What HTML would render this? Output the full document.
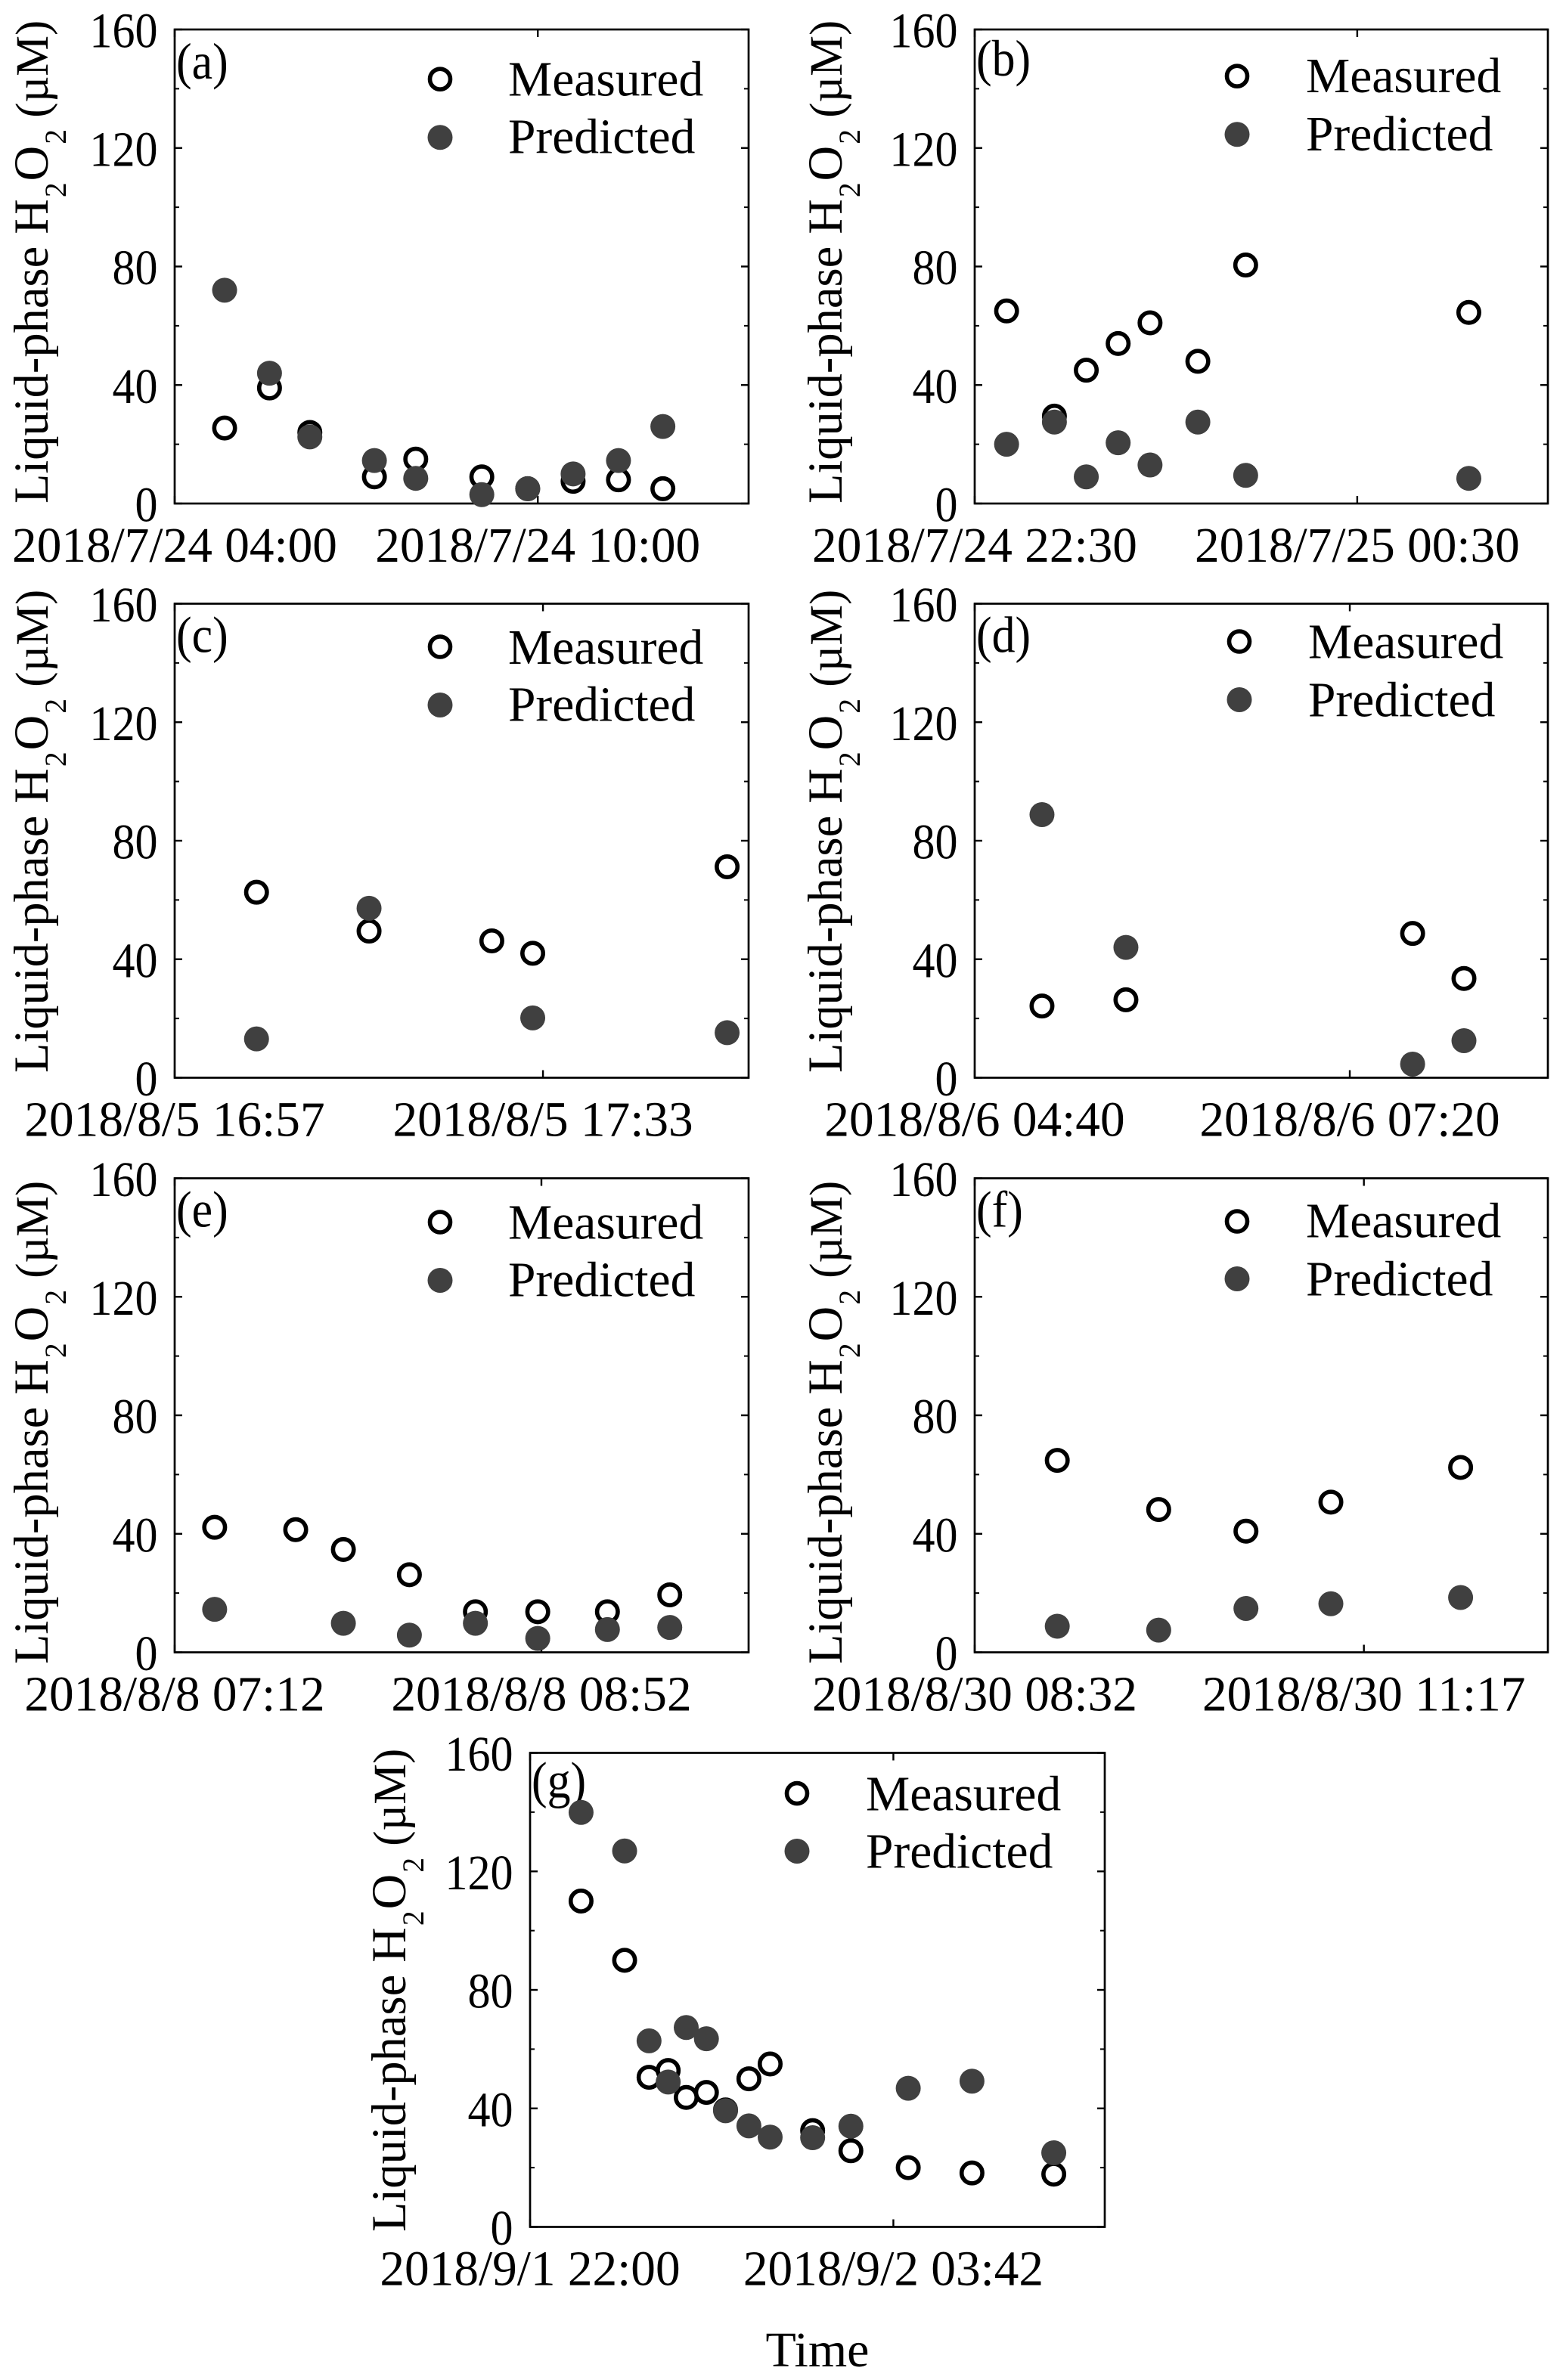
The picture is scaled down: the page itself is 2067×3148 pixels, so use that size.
<!DOCTYPE html>
<html lang="en">
<head>
<meta charset="utf-8">
<title>Measured and predicted liquid-phase H2O2</title>
<style>
html,body{margin:0;padding:0;background:#fff;}
svg{display:block;}
text{font-family:"Liberation Serif","DejaVu Serif",serif;fill:#000;}
</style>
</head>
<body>
<svg id="chart" xmlns="http://www.w3.org/2000/svg" width="2067" height="3148" viewBox="0 0 2067 3148"></svg>
<script>
// ---- Shared axis values ----
const yTickValues = [0, 40, 80, 120, 160];
const yMinorValues = [20, 60, 100, 140];
const yMax = 160;

// ---- Panel (a) ----
const aTimes = [49.5, 94, 134, 198, 239, 304.5, 350, 395, 440, 484];
const aMeasured = [25.5, 39, 24, 9, 15, 9, 5, 7.5, 8, 5];
const aPredicted = [72, 44, 22.5, 14.5, 8.5, 3, 5, 10, 14.5, 26];
const aTickLabels = ["2018/7/24 04:00", "2018/7/24 10:00"];
const aTickTimes = [0, 360];
const aTimeMax = 569;

// ---- Panel (b) ----
const bTimes = [10, 25, 35, 45, 55, 70, 85, 155];
const bMeasured = [65, 29.5, 45, 54, 61, 48, 80.5, 64.5];
const bPredicted = [20, 27.5, 9, 20.5, 13, 27.5, 9.5, 8.5];
const bTickLabels = ["2018/7/24 22:30", "2018/7/25 00:30"];
const bTickTimes = [0, 120];
const bTimeMax = 179.8;

// ---- Panel (c) ----
const cTimes = [8, 19, 31, 35, 54];
const cMeasured = [62.6, 49.5, 46.2, 42, 71.2];
const cPredicted = [13.1, 57.2, null, 20.2, 15.2];
const cTickLabels = ["2018/8/5 16:57", "2018/8/5 17:33"];
const cTickTimes = [0, 36];
const cTimeMax = 56.1;

// ---- Panel (d) ----
const dTimes = [28.7, 64.5, 186.8, 208.7];
const dMeasured = [24.2, 26.3, 48.7, 33.5];
const dPredicted = [88.8, 44, 4.6, 12.5];
const dTickLabels = ["2018/8/6 04:40", "2018/8/6 07:20"];
const dTickTimes = [0, 160];
const dTimeMax = 244.5;

// ---- Panel (e) ----
const eTimes = [10.9, 33, 46, 64, 82, 99, 118, 135];
const eMeasured = [42.2, 41.4, 34.7, 26.2, 13.7, 13.7, 13.7, 19.4];
const ePredicted = [14.5, null, 9.8, 5.8, 9.8, 4.7, 7.7, 8.4];
const eTickLabels = ["2018/8/8 07:12", "2018/8/8 08:52"];
const eTickTimes = [0, 100];
const eTimeMax = 156.5;

// ---- Panel (f) ----
const fTimes = [35, 78, 115, 151, 206];
const fMeasured = [64.8, 48.2, 40.9, 50.7, 62.4];
const fPredicted = [8.8, 7.5, 14.8, 16.4, 18.5];
const fTickLabels = ["2018/8/30 08:32", "2018/8/30 11:17"];
const fTickTimes = [0, 165];
const fTimeMax = 243;

// ---- Panel (g) ----
const gTimes = [48, 89, 112, 130, 147, 166, 184, 206, 226, 266, 302, 356, 416, 493];
const gMeasured = [110, 90, 50.5, 52.8, 43.7, 45.4, 39.5, 50, 55, 32.5, 25.7, 20, 18.2, 17.8];
const gPredicted = [139.9, 126.9, 62.8, 48.9, 67.3, 63.5, 39.2, 34.1, 30.3, 30.1, 34, 46.8, 49.2, 25];
const gTickLabels = ["2018/9/1 22:00", "2018/9/2 03:42"];
const gTickTimes = [0, 342];
const gTimeMax = 541;

// ---- Panel layout (frame geometry, kept separate from the data) ----
const panels = [
  {id:'a', times:aTimes, measured:aMeasured, predicted:aPredicted, labels:aTickLabels, ticks:aTickTimes, tMax:aTimeMax,
   left:231, top:39, w:759, h:627, yLabelX:63, yLabelY:666, tagDy:65, legX:[351,441], legY:[65.7,142.8], legBase:[87.5,163.7]},
  {id:'b', times:bTimes, measured:bMeasured, predicted:bPredicted, labels:bTickLabels, ticks:bTickTimes, tMax:bTimeMax,
   left:1289, top:39, w:758, h:627, yLabelX:1113, yLabelY:666, tagDy:61, legX:[347,438], legY:[61.7,138.8], legBase:[83,160]},
  {id:'c', times:cTimes, measured:cMeasured, predicted:cPredicted, labels:cTickLabels, ticks:cTickTimes, tMax:cTimeMax,
   left:231, top:798.5, w:759, h:627, yLabelX:63, yLabelY:1419, tagDy:64, legX:[351,441], legY:[57,134], legBase:[79.5,155]},
  {id:'d', times:dTimes, measured:dMeasured, predicted:dPredicted, labels:dTickLabels, ticks:dTickTimes, tMax:dTimeMax,
   left:1289, top:798.5, w:758, h:627, yLabelX:1113, yLabelY:1419, tagDy:64, legX:[350,441], legY:[50,127], legBase:[72,149]},
  {id:'e', times:eTimes, measured:eMeasured, predicted:ePredicted, labels:eTickLabels, ticks:eTickTimes, tMax:eTimeMax,
   left:231, top:1558.5, w:759, h:627, yLabelX:63, yLabelY:2201, tagDy:64, legX:[351,441], legY:[58,135], legBase:[80,156]},
  {id:'f', times:fTimes, measured:fMeasured, predicted:fPredicted, labels:fTickLabels, ticks:fTickTimes, tMax:fTimeMax,
   left:1289, top:1558.5, w:758, h:627, yLabelX:1113, yLabelY:2201, tagDy:64, legX:[347,438], legY:[57,133], legBase:[78,155]},
  {id:'g', times:gTimes, measured:gMeasured, predicted:gPredicted, labels:gTickLabels, ticks:gTickTimes, tMax:gTimeMax,
   left:701, top:2318.5, w:760, h:627, yLabelX:536, yLabelY:2952, tagDy:59, legX:[353,444], legY:[53.6,130], legBase:[76,152]}
];

const SVG_NS = 'http://www.w3.org/2000/svg';
const root = document.getElementById('chart');
const INK = '#000';
const PRED = '#404040';

function make(parent, tag, attrs, content) {
  const node = document.createElementNS(SVG_NS, tag);
  for (const k in attrs) node.setAttribute(k, attrs[k]);
  if (content !== undefined) node.textContent = content;
  parent.appendChild(node);
  return node;
}

function drawYLabel(g, p) {
  const el = make(g, 'text', {
    x: 0, y: 0, 'font-size': 65,
    transform: 'translate(' + p.yLabelX + ' ' + p.yLabelY + ') rotate(-90) scale(0.992 1)',
    'xml:space': 'preserve', style: 'white-space:pre'
  });
  
  
  make(el, 'tspan', {}, 'Liquid-phase H');
  make(el, 'tspan', {dx: 2, dy: 24, 'font-size': 40}, '2');
  make(el, 'tspan', {dx: 2, dy: -24}, 'O');
  make(el, 'tspan', {dx: 2, dy: 24, 'font-size': 40}, '2');
  make(el, 'tspan', {dy: -24, 'font-size': 61}, ' (\u00B5M)');
}

function drawPanel(p) {
  const xScale = t => p.left + (t / p.tMax) * p.w;
  const yScale = v => p.top + p.h - (v / yMax) * p.h;
  const bottom = p.top + p.h;
  const right = p.left + p.w;

  const g = make(root, 'g', {});
  
  

  const frame = make(g, 'rect', {x: p.left, y: p.top, width: p.w, height: p.h, fill: 'none', stroke: INK, 'stroke-width': 2.7});
  
  

  yTickValues.forEach(v => {
    const y = yScale(v);
    const l1 = make(g, 'line', {x1: p.left, x2: p.left + 10, y1: y, y2: y, stroke: INK, 'stroke-width': 2.4});
    
    
    const l2 = make(g, 'line', {x1: right, x2: right - 10, y1: y, y2: y, stroke: INK, 'stroke-width': 2.4});
    
    
    const t = make(g, 'text', {
      x: 0, y: 0, 'font-size': 66, 'text-anchor': 'end',
      transform: 'translate(' + (p.left - 22.5) + ' ' + (y + 23.5) + ') scale(0.91 1)'
    }, String(v));
    
    
  });
  yMinorValues.forEach(v => {
    const y = yScale(v);
    const l1 = make(g, 'line', {x1: p.left, x2: p.left + 6, y1: y, y2: y, stroke: INK, 'stroke-width': 2});
    
    
    const l2 = make(g, 'line', {x1: right, x2: right - 6, y1: y, y2: y, stroke: INK, 'stroke-width': 2});
    
    
  });

  p.ticks.forEach((t, i) => {
    const x = xScale(t);
    const b = make(g, 'line', {x1: x, x2: x, y1: bottom, y2: bottom - 10, stroke: INK, 'stroke-width': 2.4});
    
    
    const u = make(g, 'line', {x1: x, x2: x, y1: p.top, y2: p.top + 10, stroke: INK, 'stroke-width': 2.4});
    
    
    const lab = make(g, 'text', {x: x, y: bottom + 77, 'font-size': 65.3, 'text-anchor': 'middle'}, p.labels[i]);
    
    
  });

  drawYLabel(g, p);

  const tag = make(g, 'text', {
    x: 0, y: 0, 'font-size': 68,
    transform: 'translate(' + (p.left + 2) + ' ' + (p.top + p.tagDy) + ') scale(0.91 1)'
  }, '(' + p.id + ')');
  
  

  p.times.forEach((t, i) => {
    if (p.measured[i] === null) return;
    const c = make(g, 'circle', {cx: xScale(t), cy: yScale(p.measured[i]), r: 13.7, fill: 'none', stroke: INK, 'stroke-width': 5.6});
    
    
  });
  p.times.forEach((t, i) => {
    if (p.predicted[i] === null) return;
    const c = make(g, 'circle', {cx: xScale(t), cy: yScale(p.predicted[i]), r: 16.5, fill: PRED});
    
    
  });

  const legM = make(g, 'circle', {cx: p.left + p.legX[0], cy: p.top + p.legY[0], r: 13.5, fill: 'none', stroke: INK, 'stroke-width': 5.6});
  
  
  const legMT = make(g, 'text', {x: p.left + p.legX[1], y: p.top + p.legBase[0], 'font-size': 65.5}, 'Measured');
  
  
  const legP = make(g, 'circle', {cx: p.left + p.legX[0], cy: p.top + p.legY[1], r: 16.5, fill: PRED});
  
  
  const legPT = make(g, 'text', {x: p.left + p.legX[1], y: p.top + p.legBase[1], 'font-size': 65.5}, 'Predicted');
  
  
}

panels.forEach(drawPanel);

const timeTitle = make(root, 'text', {x: 1081, y: 3130, 'font-size': 66, 'text-anchor': 'middle'}, 'Time');


</script>
</body>
</html>
